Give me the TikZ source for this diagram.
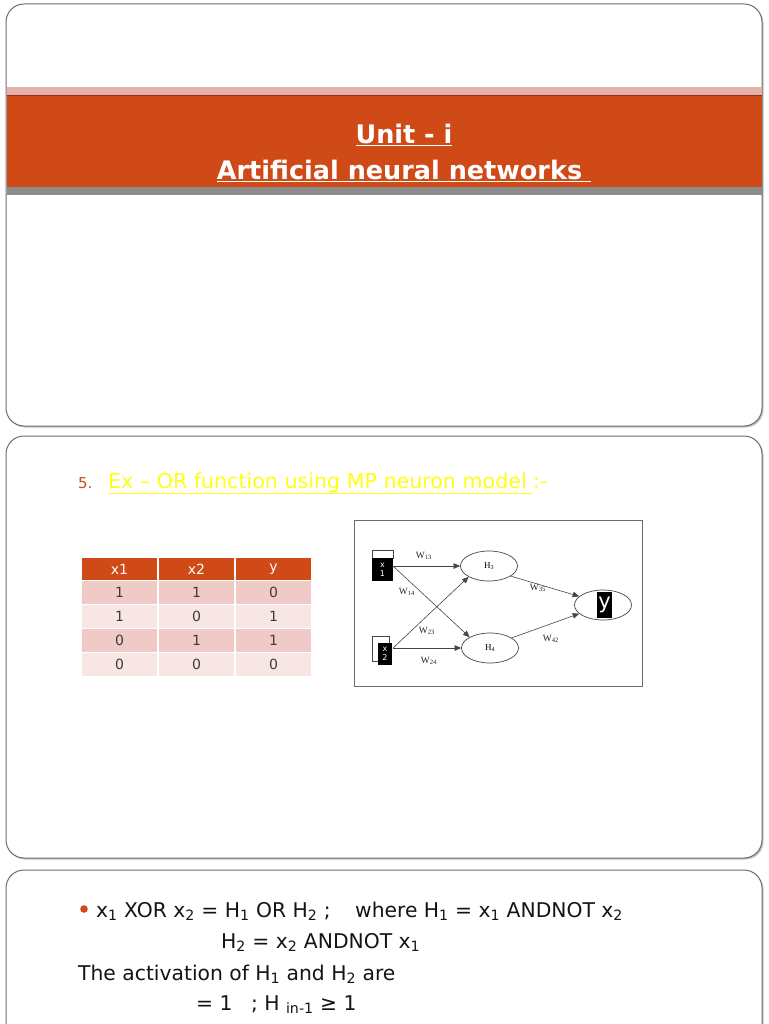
\documentclass[tikz,border=0pt]{standalone}
\usepackage{fontspec}
\setmainfont{DejaVu Sans}
\newfontfamily\netfont{Liberation Serif}
\usetikzlibrary{arrows.meta,shapes.geometric}
\definecolor{orangec}{RGB}{208,74,24}
\definecolor{darkorangec}{RGB}{150,50,20}
\definecolor{pinkband}{RGB}{230,177,169}
\definecolor{grayband}{RGB}{140,140,140}
\definecolor{slidegray}{RGB}{110,110,110}
\definecolor{rowdark}{RGB}{239,202,198}
\definecolor{rowlight}{RGB}{248,230,228}
\definecolor{yel}{RGB}{255,255,20}
\definecolor{txt}{RGB}{20,20,20}
\definecolor{celltxt}{RGB}{60,60,60}
\definecolor{netgray}{RGB}{70,70,70}
\tikzset{
  slide/.style={draw=slidegray, line width=1pt, rounded corners=18pt, fill=white},
  slideshadow/.style={fill=black!25, rounded corners=18pt},
  titletext/.style={text=white, font=\fontsize{25.5}{30}\selectfont\bfseries, inner sep=0},
  cellbase/.style={minimum width=75, minimum height=23, inner sep=0, font=\fontsize{14}{16}\selectfont},
  hdrcell/.style={cellbase, fill=orangec, text=white, minimum height=22},
  darkcell/.style={cellbase, fill=rowdark, text=celltxt},
  lightcell/.style={cellbase, fill=rowlight, text=celltxt},
  neuron/.style={draw=netgray, ellipse, line width=0.7pt, minimum width=57, minimum height=30, inner sep=0, font=\netfont\fontsize{9}{10}\selectfont},
  conn/.style={draw=netgray, line width=0.6pt, -{Triangle[length=6.5pt,width=5.5pt]}},
  wlabel/.style={font=\netfont\fontsize{9.5}{10}\selectfont, text=black!85, inner sep=0},
  bodytext/.style={anchor=base west, text=txt, inner sep=0, font=\fontsize{20.3}{24}\selectfont},
}
\begin{document}
\begin{tikzpicture}[x=1pt,y=-1pt]
\useasboundingbox (0,0) rectangle (768,1024);
\clip (0,0) rectangle (768,1024);
% ---------- slide 1 ----------
\fill[slideshadow] (7.5,5.5) rectangle (763.5,427.5);
\path[slide] (6,4) rectangle (762,426);
\fill[pinkband] (6.5,87) rectangle (761.5,95);
\fill[orangec] (6.5,95) rectangle (761.5,187);
\draw[darkorangec, line width=0.8pt] (6.5,95.4) -- (761.5,95.4);
\fill[grayband] (6.5,187) rectangle (761.5,195);
\node[titletext] (t1) at (404,135) {\underline{Unit - i}};
\node[titletext] (t2) at (404,171) {\underline{Artificial neural networks\ }};
% ---------- slide 2 ----------
\fill[slideshadow] (7.5,437.5) rectangle (763.5,859.5);
\path[slide] (6,436) rectangle (762,858);
\node[anchor=base west, inner sep=0, text=orangec, font=\fontsize{15}{17}\selectfont] (num) at (78,488) {5.};
\node[anchor=base west, inner sep=0, text=yel, font=\fontsize{20.6}{24}\selectfont] (head) at (108,488) {\underline{Ex – OR function using MP neuron model }:-};
% table
\node[hdrcell] (c11) at (119.5,569) {x1};
\node[hdrcell] (c12) at (196.5,569) {x2};
\node[hdrcell] (c13) at (273.5,569) {y};
\foreach \r/\y/\st/\a/\b/\c in {2/592/darkcell/1/1/0, 3/616/lightcell/1/0/1, 4/640/darkcell/0/1/1, 5/664/lightcell/0/0/0}{
  \node[\st] (c\r1) at (119.5,\y) {\a};
  \node[\st] (c\r2) at (196.5,\y) {\b};
  \node[\st] (c\r3) at (273.5,\y) {\c};
}
% network
\draw[netgray!80, line width=0.7pt] (354,520) rectangle (642,686);
\node[draw=netgray, fill=white, line width=0.6pt, minimum width=21, minimum height=8, inner sep=0] (x1top) at (382.5,554.5) {};
\node[fill=black, minimum width=21, minimum height=23, inner sep=0, text=white, align=center, font=\fontsize{8}{9}\selectfont] (x1) at (382.5,569.5) {x\\1};
\node[draw=netgray, fill=white, line width=0.6pt, minimum width=17, minimum height=25, inner sep=0] (x2back) at (380.5,648.5) {};
\node[fill=black, minimum width=14, minimum height=22, inner sep=0, text=white, align=center, font=\fontsize{8}{9}\selectfont] (x2) at (385,654) {x\\2};
\node[neuron] (h3) at (489,566) {H\textsubscript{3}};
\node[neuron] (h4) at (490,648) {H\textsubscript{4}};
\node[neuron] (yo) at (603,605) {};
\node[fill=black, minimum width=15, minimum height=26, inner sep=0, text=white, font=\fontsize{21}{22}\selectfont] (ylab) at (604.5,605) {y};
\coordinate (x1o) at (393,566);
\coordinate (x2o) at (393,648);
\draw[conn] (x1o) -- (h3.west);
\draw[conn] (x1o) -- (h4.152);
\draw[conn] (x2o) -- (h3.208);
\draw[conn] (x2o) -- (h4.west);
\draw[conn] (h3.-25) -- (yo.160);
\draw[conn] (h4.25) -- (yo.200);
\node[wlabel] (w13) at (424,556) {W\textsubscript{13}};
\node[wlabel] (w14) at (407,592) {W\textsubscript{14}};
\node[wlabel] (w23) at (427,631) {W\textsubscript{23}};
\node[wlabel] (w24) at (429,661) {W\textsubscript{24}};
\node[wlabel] (w35) at (538,588) {W\textsubscript{35}};
\node[wlabel] (w42) at (551,639) {W\textsubscript{42}};
% ---------- slide 3 ----------
\fill[slideshadow] (7.5,871.5) rectangle (763.5,1070);
\path[slide] (6,870) rectangle (762,1068);
\fill[orangec] (84,909) circle (3.8);
\node[bodytext] (l1) at (96,917) {x\textsubscript{1} XOR x\textsubscript{2} = H\textsubscript{1} OR H\textsubscript{2} ;\hspace{18pt} where H\textsubscript{1} = x\textsubscript{1} ANDNOT x\textsubscript{2}};
\node[bodytext] (l2) at (221,948) {H\textsubscript{2} = x\textsubscript{2} ANDNOT x\textsubscript{1}};
\node[bodytext] (l3) at (78,980) {The activation of H\textsubscript{1} and H\textsubscript{2} are};
\node[bodytext] (l4) at (196,1010) {= 1\hspace{12pt} ; H \textsubscript{in-1} ≥ 1};
\end{tikzpicture}
\end{document}
